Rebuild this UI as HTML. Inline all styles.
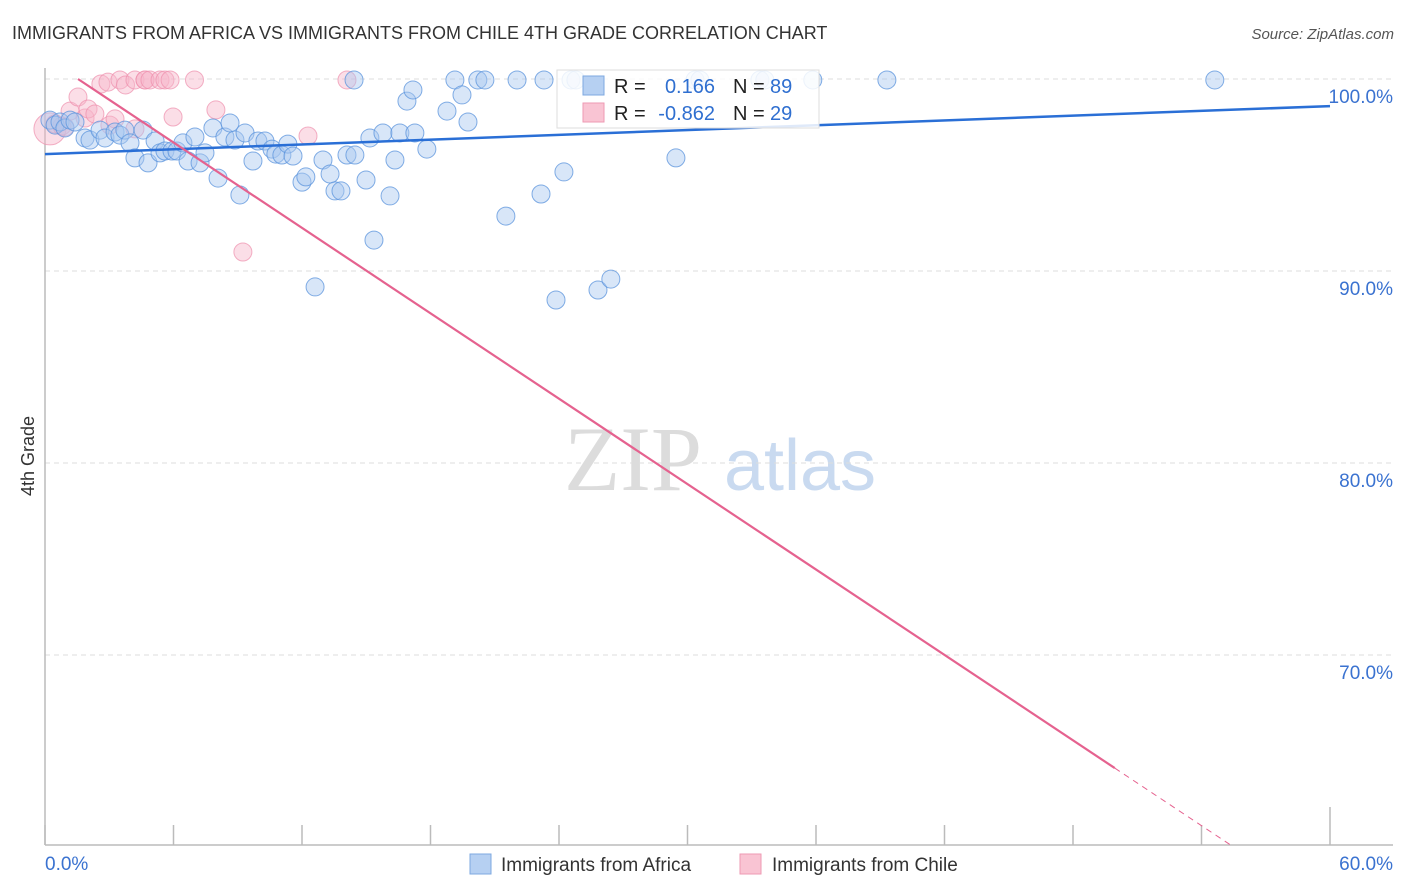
<!DOCTYPE html>
<html><head><meta charset="utf-8">
<style>
body{margin:0;background:#fff;font-family:"Liberation Sans",sans-serif;}
#wrap{position:relative;width:1406px;height:892px;overflow:hidden;}
</style></head>
<body>
<div id="wrap">
<svg id="chart" width="1406" height="892" xmlns="http://www.w3.org/2000/svg">
<text x="12" y="39" font-size="18" fill="#333" font-family="Liberation Sans, sans-serif">IMMIGRANTS FROM AFRICA VS IMMIGRANTS FROM CHILE 4TH GRADE CORRELATION CHART</text>
<text x="1394" y="39" font-size="15" fill="#555" font-style="italic" text-anchor="end">Source: ZipAtlas.com</text>
<text transform="translate(34,456) rotate(-90)" font-size="18" fill="#333" text-anchor="middle">4th Grade</text>
<g>
<text x="633" y="490" font-size="92" fill="#dcdcdc" font-family="Liberation Serif, serif" text-anchor="middle">ZIP</text>
<text x="800" y="490" font-size="72" fill="#c9daf0" text-anchor="middle">atlas</text>
</g>
<g id="grid"></g>
<g id="axes"></g>
<g id="pts"></g>
<g id="trend"></g>
<g>
<rect x="557" y="70" width="262" height="58" fill="#fff" fill-opacity="0.85" stroke="#ddd"/>
<rect x="583" y="76" width="21" height="19" fill="#b6d0f2" stroke="#7ea8e0"/>
<rect x="583" y="103" width="21" height="19" fill="#f9c4d3" stroke="#ee9ab3"/>
<text x="614" y="93" font-size="20" fill="#222">R =</text>
<text x="715" y="93" font-size="20" fill="#2f6fd0" text-anchor="end">0.166</text>
<text x="733" y="93" font-size="20" fill="#222">N =</text>
<text x="770" y="93" font-size="20" fill="#2f6fd0">89</text>
<text x="614" y="120" font-size="20" fill="#222">R =</text>
<text x="715" y="120" font-size="20" fill="#2f6fd0" text-anchor="end">-0.862</text>
<text x="733" y="120" font-size="20" fill="#222">N =</text>
<text x="770" y="120" font-size="20" fill="#2f6fd0">29</text>
</g>
<g>
<rect x="470" y="854" width="21" height="20" fill="#b6d0f2" stroke="#7ea8e0"/>
<text x="501" y="871" font-size="19" fill="#333">Immigrants from Africa</text>
<rect x="740" y="854" width="21" height="20" fill="#f9c4d3" stroke="#ee9ab3"/>
<text x="772" y="871" font-size="19" fill="#333">Immigrants from Chile</text>
</g>
</svg>
</div>
<script>
const xTicks=[0,6,12,18,24,30,36,42,48,54,60];
const xLabels=["0.0%","60.0%"];
const yTicks=[100,90,80,70];
const yTickLabels=["100.0%","90.0%","80.0%","70.0%"];
const africaX=[0.23,0.47,0.70,0.93,1.17,1.40,1.87,2.10,2.57,2.80,3.27,3.50,3.73,3.97,4.20,4.58,4.81,5.14,5.37,5.60,5.93,6.16,6.44,6.68,7.00,7.24,7.47,7.84,8.08,8.40,8.64,8.87,9.10,9.34,9.71,9.94,10.27,10.60,10.78,11.06,11.34,11.58,12.00,12.18,12.61,12.98,13.31,13.54,13.82,14.10,14.43,14.47,14.99,15.17,15.36,15.78,16.11,16.34,16.57,16.90,17.18,17.27,17.83,18.77,19.14,19.47,19.75,20.21,20.54,21.52,22.04,23.16,23.30,23.86,24.23,24.56,24.79,25.82,26.42,29.46,30.35,30.58,33.38,33.61,35.85,39.31,54.62];
const africaY=[97.86,97.60,97.76,97.45,97.86,97.76,96.93,96.82,97.34,96.93,97.24,97.08,97.34,96.67,95.89,97.34,95.63,96.77,96.15,96.25,96.25,96.25,96.67,95.73,96.98,95.63,96.15,97.45,94.84,96.98,97.71,96.82,93.96,97.19,95.73,96.77,96.77,96.35,96.09,96.04,96.61,95.99,94.63,94.90,89.17,95.78,95.05,94.17,94.17,96.04,99.95,96.04,94.74,96.93,91.61,97.19,93.91,95.78,97.19,98.85,99.43,97.19,96.35,98.33,99.95,99.17,97.76,99.95,99.95,92.86,99.95,94.01,99.95,88.49,95.16,99.95,99.95,89.01,89.58,95.89,99.95,99.95,99.95,99.95,99.95,99.95,99.95];
const chileX=[0.23,0.47,0.79,0.93,1.17,1.54,1.87,2.01,2.33,2.61,2.94,3.03,3.27,3.50,3.76,4.20,4.20,4.67,4.67,4.90,5.37,5.60,5.84,5.98,6.98,7.98,9.24,12.28,14.10];
const chileY=[97.40,97.66,97.55,97.50,98.33,99.06,97.97,98.44,98.18,99.74,99.84,97.60,97.92,99.95,99.69,97.40,99.95,99.95,99.95,99.95,99.95,99.95,99.95,98.02,99.95,98.39,90.99,97.03,99.95];
const chileBig=[0];
const blueTrendX=[0,60];const blueTrendY=[96.09,98.59];
const pinkTrendX=[1.54,49.95,55.5];const pinkTrendY=[100,64.11,60];
const NS="http://www.w3.org/2000/svg";
const X0=45,X1=1330,Y100=79,PPY=19.2;
const xs=v=>X0+(v/60)*(X1-X0);
const ys=v=>Y100+(100-v)*PPY;
function mk(tag,attrs,parent){const e=document.createElementNS(NS,tag);for(const k in attrs)e.setAttribute(k,attrs[k]);parent.appendChild(e);return e;}
const grid=document.getElementById('grid'),axes=document.getElementById('axes'),pts=document.getElementById('pts'),trend=document.getElementById('trend');
yTicks.forEach((t,i)=>{
 const l=mk('line',{x1:X0,x2:1393,y1:ys(t),y2:ys(t),stroke:'#ddd','stroke-dasharray':'5,4'},grid);
 
 
 const tx=mk('text',{x:1393,y:ys(t)+24,'font-size':19,fill:'#3a72d0','text-anchor':'end'},axes);
 tx.textContent=yTickLabels[i];
 
 
});
const ya=mk('line',{x1:X0,x2:X0,y1:68,y2:845,stroke:'#bbb','stroke-width':1.5},axes);


const xa=mk('line',{x1:X0,x2:1393,y1:845,y2:845,stroke:'#bbb','stroke-width':1.5},axes);


xTicks.forEach((t,i)=>{
 const h=(i===xTicks.length-1)?38:20;
 const l=mk('line',{x1:xs(t),x2:xs(t),y1:845-h,y2:845,stroke:'#bbb','stroke-width':1.5},axes);
 
 
});
const xl0=mk('text',{x:45,y:870,'font-size':19,fill:'#3a72d0'},axes);xl0.textContent=xLabels[0];


const xl1=mk('text',{x:1393,y:870,'font-size':19,fill:'#3a72d0','text-anchor':'end'},axes);xl1.textContent=xLabels[1];


chileX.forEach((v,i)=>{
 const c=mk('circle',{cx:xs(v),cy:ys(chileY[i]),r:chileBig.includes(i)?16:9,fill:'#f7b6c9','fill-opacity':0.45,stroke:'#ee8fac','stroke-opacity':0.7},pts);
 
 
});
africaX.forEach((v,i)=>{
 const c=mk('circle',{cx:xs(v),cy:ys(africaY[i]),r:9,fill:'#a9c8ef','fill-opacity':0.45,stroke:'#5a93dc','stroke-opacity':0.75},pts);
 
 
});
const bl=mk('line',{x1:xs(blueTrendX[0]),y1:ys(blueTrendY[0]),x2:xs(blueTrendX[1]),y2:ys(blueTrendY[1]),stroke:'#2a6fd6','stroke-width':2.5},trend);


const pl=mk('line',{x1:xs(pinkTrendX[0]),y1:ys(pinkTrendY[0]),x2:xs(pinkTrendX[1]),y2:ys(pinkTrendY[1]),stroke:'#e5628f','stroke-width':2.2},trend);


const pd=mk('line',{x1:xs(pinkTrendX[1]),y1:ys(pinkTrendY[1]),x2:xs(pinkTrendX[2]),y2:ys(pinkTrendY[2]),stroke:'#e5628f','stroke-width':1,'stroke-dasharray':'6,5'},trend);


</script>
</body></html>
